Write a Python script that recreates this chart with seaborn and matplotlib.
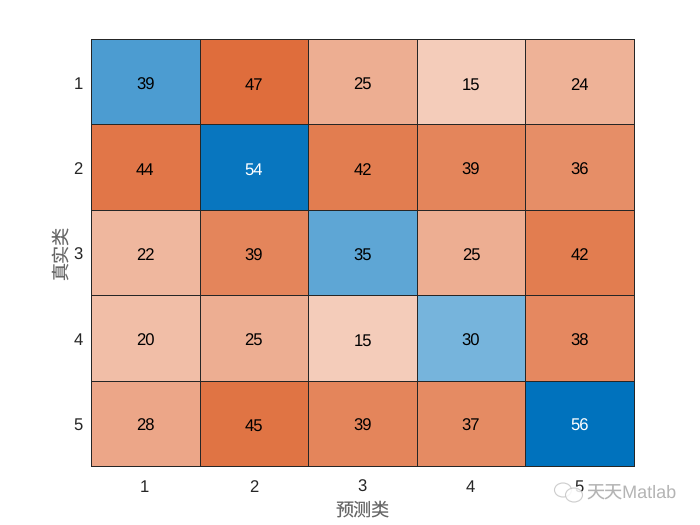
import numpy as np
import pandas as pd
import seaborn as sns
import matplotlib
matplotlib.use("Agg")
import matplotlib.pyplot as plt
from matplotlib.colors import ListedColormap
from matplotlib.patches import Ellipse

labels = ["1", "2", "3", "4", "5"]
row1 = [39, 47, 25, 15, 24]
row2 = [44, 54, 42, 39, 36]
row3 = [22, 39, 35, 25, 42]
row4 = [20, 25, 15, 30, 38]
row5 = [28, 45, 39, 37, 56]
xlabel = "预测类"
ylabel = "真实类"
watermark = "天天Matlab"

plt.rcParams['font.family'] = ['Liberation Sans', 'Noto Sans CJK SC', 'DejaVu Sans']
plt.rcParams['text.hinting'] = 'no_hinting'
plt.rcParams['text.hinting_factor'] = 8

matrix = np.array([row1, row2, row3, row4, row5], dtype=float)
df = pd.DataFrame(matrix, index=labels, columns=labels)
# signed values: diagonal (correct) blue, off-diagonal orange
signed = df.copy()
for i in range(5):
    for j in range(5):
        if i != j:
            signed.iloc[i, j] = -matrix[i, j]

def ramp(c0, c1, n=128):
    return [tuple(np.array(c0) + (np.array(c1) - np.array(c0)) * t) for t in np.linspace(0, 1, n)]
blue_end = (0/255, 114/255, 189/255)
orange_end = (217/255, 83/255, 25/255)
cmap = ListedColormap(ramp(orange_end, (0.995, 0.975, 0.96)) + ramp((1, 1, 1), blue_end))

fig = plt.figure(figsize=(7, 5.25), dpi=100)
ax = fig.add_axes([91/700, 1 - 466/525, (634 - 91)/700, (466 - 39)/525])
sns.heatmap(signed, ax=ax, cmap=cmap, vmin=-56, vmax=56, cbar=False, annot=False,
            linewidths=0.6, linecolor="#262626", clip_on=False)
for i in range(5):
    for j in range(5):
        v = matrix[i, j]
        ax.text(j + 0.5, i + 0.52, f"{int(v)}", ha="center", va="center_baseline", fontsize=12,
                color="white" if i == j and v > 50 else "black")
ax.set_xticks(np.arange(5) + 0.495)
ax.set_xticklabels(labels)
ax.set_yticks(np.arange(5) + 0.51)
ax.set_yticklabels(labels, rotation=0, va="center_baseline")
ax.set_xlabel(xlabel, fontsize=13, color="#666666", labelpad=5)
ax.set_ylabel(ylabel, fontsize=13, color="#666666", labelpad=2)
ax.tick_params(length=0, labelsize=12, labelcolor="#262626")
ax.tick_params(axis="x", pad=10)
ax.tick_params(axis="y", pad=6)
for s in ax.spines.values():
    s.set_visible(True)
    s.set_color("#262626")
    s.set_linewidth(0.6)

# watermark: chat-bubble icon outline and name, over the last tick label
W, H = 700, 525
for cx, cy, w, h in [(563, 490, 17, 14), (574, 495, 17, 14)]:
    fig.add_artist(Ellipse((cx / W, 1 - cy / H), w / W, h / H, transform=fig.transFigure,
                           facecolor="white", edgecolor="#c4c4c4", linewidth=0.8, alpha=0.85))
fig.text(677/700, 1 - 494/525, watermark, ha="right", va="center", fontsize=13, color="#b4b4b4")
fig.savefig("out.png", dpi=100)
